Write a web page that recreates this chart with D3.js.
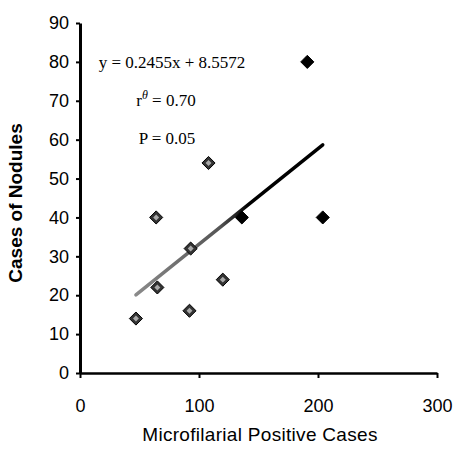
<!DOCTYPE html>
<html>
<head>
<meta charset="utf-8">
<script src="https://cdn.jsdelivr.net/npm/d3@7"></script>
<style>
  body { margin: 0; background: #fff; }
  svg text { fill: #000; }
</style>
</head>
<body>
<svg id="canvas" width="455" height="451"></svg>
<script>
// points
let mfCases = [47, 65, 64, 93, 92, 108, 120, 136, 191, 204]
let nodules = [14, 22, 40, 32, 16, 54, 24, 40, 80, 40]
let xTicks = [0, 100, 200, 300]
let yTicks = [0, 10, 20, 30, 40, 50, 60, 70, 80, 90]
let slope = 0.2455
let intercept = 8.5572
let statLines = ['y = 0.2455x + 8.5572', 'r\u03B8 = 0.70', 'P = 0.05']

let svg = d3.select('#canvas')

let xScale = d3.scaleLinear().domain([0, 300]).range([80, 437])
let yScale = d3.scaleLinear().domain([0, 90]).range([373, 23])

// axes
let yAxis = d3.axisLeft(yScale).tickValues(yTicks).tickSize(4).tickSizeOuter(0)
let gy = svg.append('g').attr('transform', 'translate(80,0)').call(yAxis)
gy.select('.domain').attr('stroke', '#000').attr('stroke-width', 3)
gy.selectAll('.tick line').attr('stroke', '#000').attr('stroke-width', 2)
gy.selectAll('.tick text')
  .attr('x', -11)
  .style('font-family', 'Liberation Sans, Arial, sans-serif')
  .style('font-size', '18px')

let xAxis = d3.axisBottom(xScale).tickValues(xTicks).tickSize(5).tickSizeOuter(0)
let gx = svg.append('g').attr('transform', 'translate(0,373)').call(xAxis)
gx.select('.domain').attr('stroke', '#000').attr('stroke-width', 2.5)
gx.selectAll('.tick line').attr('stroke', '#000').attr('stroke-width', 2)
gx.selectAll('.tick text')
  .attr('y', 26)
  .style('font-family', 'Liberation Sans, Arial, sans-serif')
  .style('font-size', '18px')

// axis titles
svg.append('text')
   .attr('transform', 'translate(22,203) rotate(-90)')
   .attr('text-anchor', 'middle')
   .style('font-family', 'Liberation Sans, Arial, sans-serif')
   .style('font-size', '19px')
   .style('font-weight', 'bold')
   .text('Cases of Nodules')

svg.append('text')
   .attr('x', 260)
   .attr('y', 441)
   .attr('text-anchor', 'middle')
   .style('font-family', 'Liberation Sans, Arial, sans-serif')
   .style('font-size', '19px')
   .style('letter-spacing', '0.3px')
   .text('Microfilarial Positive Cases')

// trend line, grey on the left fading into black
let grad = svg.append('defs').append('linearGradient')
   .attr('id', 'fade')
   .attr('gradientUnits', 'userSpaceOnUse')
   .attr('x1', xScale(47)).attr('x2', xScale(204))
   .attr('y1', 0).attr('y2', 0)
grad.append('stop').attr('offset', '0%').attr('stop-color', '#8a8a8a')
grad.append('stop').attr('offset', '45%').attr('stop-color', '#555')
grad.append('stop').attr('offset', '60%').attr('stop-color', '#000')

let xMin = d3.min(mfCases)
let xMax = d3.max(mfCases)
svg.append('line')
   .attr('x1', xScale(xMin))
   .attr('y1', yScale(slope * xMin + intercept))
   .attr('x2', xScale(xMax))
   .attr('y2', yScale(slope * xMax + intercept))
   .attr('stroke', 'url(#fade)')
   .attr('stroke-width', 3.5)
   .attr('stroke-linecap', 'round')

// diamonds
let pts = mfCases.map((d, i) => ({x: d, y: nodules[i]}))
let diamond = d3.symbol().type(d3.symbolDiamond2).size(110)
svg.selectAll('path.pt')
   .data(pts)
   .enter()
   .append('path')
   .attr('class', 'pt')
   .attr('d', diamond)
   .attr('transform', (d) => 'translate(' + xScale(d.x) + ',' + yScale(d.y) + ')')
   .attr('fill', (d) => d.x < 130 ? '#333' : '#000')
   .attr('stroke', '#000')
   .attr('stroke-width', 1)

svg.selectAll('path.inner')
   .data(pts.filter((d) => d.x < 130))
   .enter()
   .append('path')
   .attr('class', 'inner')
   .attr('d', d3.symbol().type(d3.symbolDiamond2).size(22))
   .attr('transform', (d) => 'translate(' + xScale(d.x) + ',' + yScale(d.y) + ')')
   .attr('fill', '#aaa')

// regression stats
let statX = [172, 166, 167]
let statY = [68, 106, 144]
let stats = svg.append('g')
   .style('font-family', 'Liberation Serif, Times New Roman, serif')
   .style('font-size', '17px')
stats.append('text').attr('x', statX[0]).attr('y', statY[0]).attr('text-anchor', 'middle').text(statLines[0])
let r2 = stats.append('text').attr('x', statX[1]).attr('y', statY[1]).attr('text-anchor', 'middle')
r2.append('tspan').text('r')
r2.append('tspan').attr('dy', -7).style('font-size', '12px').style('font-style', 'italic').text('\u03B8')
r2.append('tspan').attr('dy', 7).text(' = 0.70')
stats.append('text').attr('x', statX[2]).attr('y', statY[2]).attr('text-anchor', 'middle').text(statLines[2])
</script>
</body>
</html>
